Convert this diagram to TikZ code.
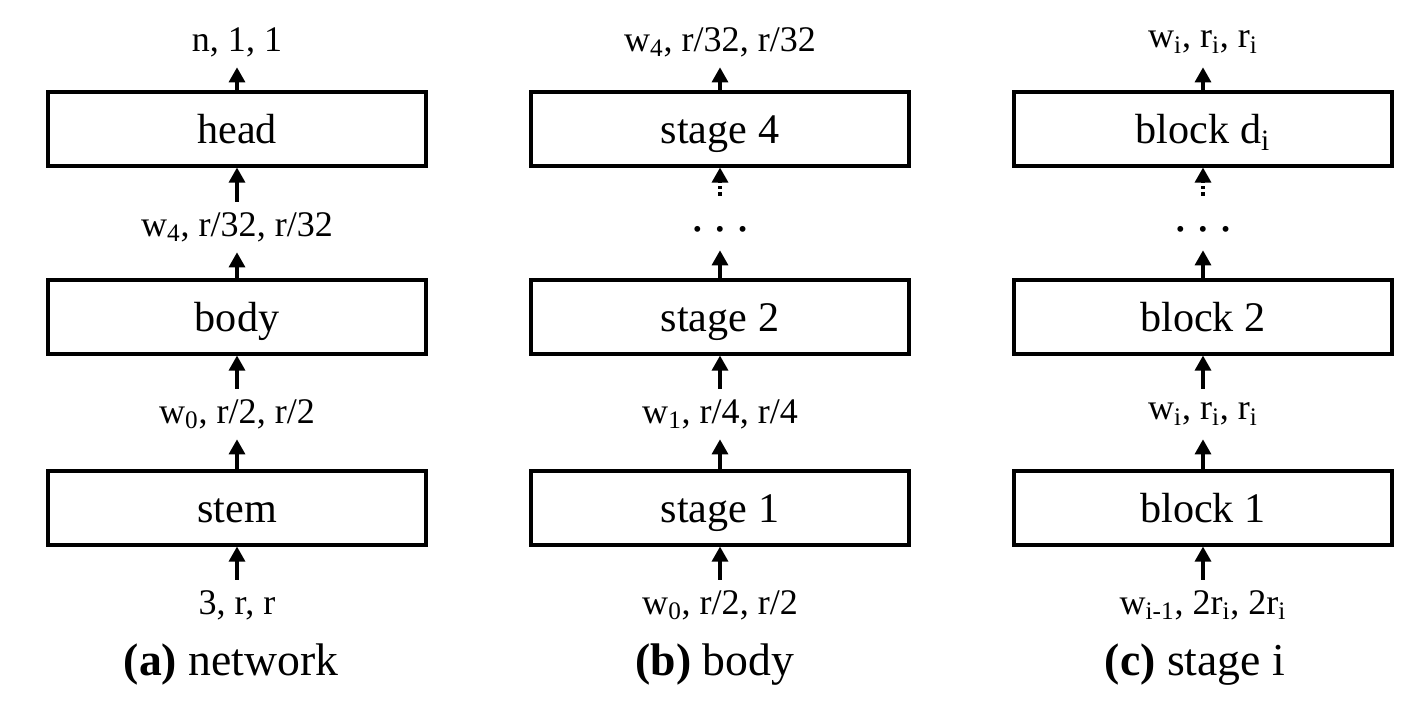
\documentclass[tikz,border=0pt]{standalone}
\usepackage{fontspec}
\setmainfont{Liberation Serif}
\usetikzlibrary{arrows.meta}

\begin{document}
\begin{tikzpicture}[
  x=0.02cm,
  y=0.02cm,
  blockbox/.style={
    draw=black,
    line width=1.8pt,
    minimum width=7.56cm,
    minimum height=1.48cm,
    inner sep=0pt,
    text height=17pt,
    text depth=0pt,
    font=\fontsize{24}{28}\selectfont
  },
  shape-label/.style={
    minimum height=1.0cm,
    inner sep=0pt,
    font=\fontsize{20.5}{24}\selectfont
  },
  dots/.style={
    minimum height=1.08cm,
    inner sep=0pt,
    text height=17pt,
    text depth=0pt,
    font=\fontsize{14}{16}\selectfont
  },
  caption/.style={
    inner sep=0pt,
    font=\fontsize{26}{30}\selectfont
  },
  flow/.style={
    line width=1.8pt,
    -{Triangle[width=0.32cm,length=0.3cm]}
  },
]
\useasboundingbox (0,0) rectangle (1424,717);

% (a) network
\node[shape-label] (a-out) at (237,675) {n, 1, 1};
\node[blockbox] (head) at (237,588) {head};
\node[shape-label] (a-w4) at (237,490) {w\textsubscript{4}, r/32, r/32};
\node[blockbox] (body) at (237,400) {body};
\node[shape-label] (a-w0) at (237,303) {w\textsubscript{0}, r/2, r/2};
\node[blockbox] (stem) at (237,209) {stem};
\node[shape-label] (a-in) at (237,112) {3, r, r};
\node[caption] (a-cap) at (231,52) {\textbf{(a)} network};

\draw[flow] (head) -- (a-out);
\draw[flow] (a-w4) -- (head);
\draw[flow] (body) -- (a-w4);
\draw[flow] (a-w0) -- (body);
\draw[flow] (stem) -- (a-w0);
\draw[flow] (a-in) -- (stem);

% (b) body
\node[shape-label] (b-out) at (720,675) {w\textsubscript{4}, r/32, r/32};
\node[blockbox] (stage4) at (720,588) {stage 4};
\node[dots] (b-dots) at (720,494) {\textbullet\hspace{0.28cm}\textbullet\hspace{0.28cm}\textbullet};
\node[blockbox] (stage2) at (720,400) {stage 2};
\node[shape-label] (b-w1) at (720,303) {w\textsubscript{1}, r/4, r/4};
\node[blockbox] (stage1) at (720,209) {stage 1};
\node[shape-label] (b-in) at (720,112) {w\textsubscript{0}, r/2, r/2};
\node[caption] (b-cap) at (715,52) {\textbf{(b)} body};

\draw[flow] (stage4) -- (b-out);
\draw[flow,dotted] (b-dots) -- (stage4);
\draw[flow] (stage2) -- (b-dots);
\draw[flow] (b-w1) -- (stage2);
\draw[flow] (stage1) -- (b-w1);
\draw[flow] (b-in) -- (stage1);

% (c) stage i
\node[shape-label] (c-out) at (1203,675) {w\textsubscript{i}, r\textsubscript{i}, r\textsubscript{i}};
\node[blockbox] (blockd) at (1203,588) {block d\textsubscript{i}};
\node[dots] (c-dots) at (1203,494) {\textbullet\hspace{0.28cm}\textbullet\hspace{0.28cm}\textbullet};
\node[blockbox] (block2) at (1203,400) {block 2};
\node[shape-label] (c-wi) at (1203,303) {w\textsubscript{i}, r\textsubscript{i}, r\textsubscript{i}};
\node[blockbox] (block1) at (1203,209) {block 1};
\node[shape-label] (c-in) at (1203,112) {w\textsubscript{i-1}, 2r\textsubscript{i}, 2r\textsubscript{i}};
\node[caption] (c-cap) at (1195,52) {\textbf{(c)} stage i};

\draw[flow] (blockd) -- (c-out);
\draw[flow,dotted] (c-dots) -- (blockd);
\draw[flow] (block2) -- (c-dots);
\draw[flow] (c-wi) -- (block2);
\draw[flow] (block1) -- (c-wi);
\draw[flow] (c-in) -- (block1);
\end{tikzpicture}
\end{document}
